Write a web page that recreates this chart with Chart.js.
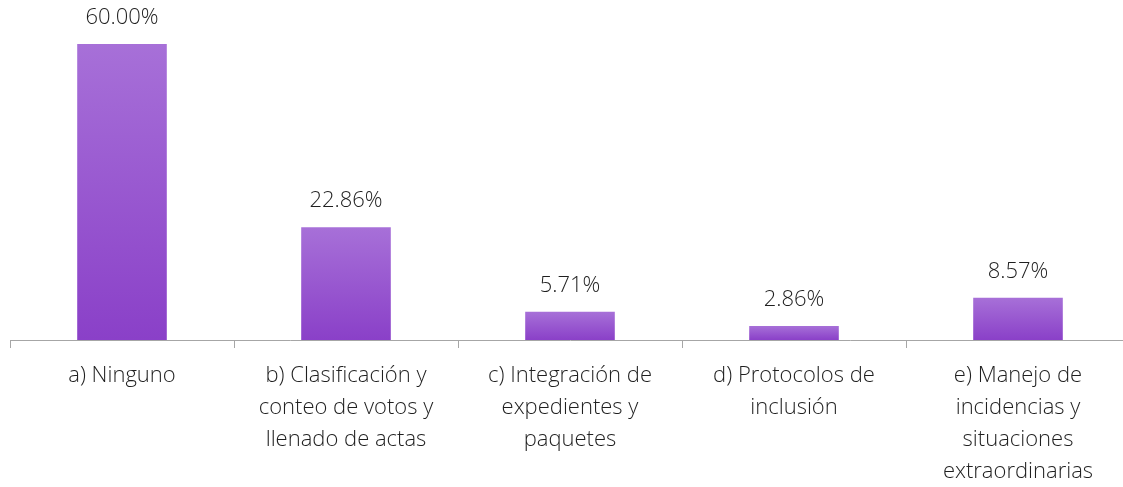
<!DOCTYPE html>
<html lang="es">
<head>
<meta charset="UTF-8" />
<title>Capacitación</title>
<script src="https://cdn.jsdelivr.net/npm/chart.js@4.4.1/dist/chart.umd.min.js"></script>
<style>
	html, body { margin: 0; padding: 0; background: #fff; overflow: hidden; }
	#wrap { position: relative; width: 1140px; height: 487px; }
</style>
</head>
<body>
<div id="wrap">
	<canvas id="myChart"></canvas>
</div>
<script>
	// categorias y porcentajes
	const categorias = [
		["a) Ninguno"],
		["b) Clasificación y", "conteo de votos y", "llenado de actas"],
		["c) Integración de", "expedientes y", "paquetes"],
		["d) Protocolos de", "inclusión"],
		["e) Manejo de", "incidencias y", "situaciones", "extraordinarias"]
	];
	const porcentajes = [60.00, 22.86, 5.71, 2.86, 8.57];

	const fuente = "'Open Sans', 'Noto Sans', sans-serif";

	// degradado vertical por barra, del tono claro arriba al oscuro abajo
	// (cada barra recibe su propio objeto de opciones, las compartidas no sirven)
	const degradado = {
		id: 'degradado',
		beforeDatasetsDraw(chart) {
			const ctx = chart.ctx;
			chart.getDatasetMeta(0).data.forEach(bar => {
				const g = ctx.createLinearGradient(0, bar.y, 0, bar.base);
				g.addColorStop(0, '#a770d8');
				g.addColorStop(1, '#8a40c8');
				bar.options = Object.assign({}, bar.options, { backgroundColor: g });
			});
		}
	};

	// etiquetas de valor encima de cada barra
	const etiquetas = {
		id: 'etiquetas',
		afterDatasetsDraw(chart) {
			const ctx = chart.ctx;
			ctx.save();
			ctx.font = "300 22px " + fuente;
			ctx.fillStyle = '#1f1f1f';
			ctx.textAlign = 'center';
			ctx.textBaseline = 'middle';
			chart.getDatasetMeta(0).data.forEach((bar, i) => {
				ctx.fillText(porcentajes[i].toFixed(2) + '%', bar.x, bar.y - 26);
			});
			ctx.restore();
		}
	};

	const ctx = document.getElementById('myChart').getContext('2d');
	const chart = new Chart(ctx, {
		type: 'bar',
		data: {
			labels: categorias,
			datasets: [{
				data: porcentajes,
				backgroundColor: '#9a58d0',
				categoryPercentage: 0.4,
				barPercentage: 1
			}]
		},
		options: {
			responsive: true,
			maintainAspectRatio: false,
			animation: false,
			layout: { padding: { top: 44, left: 10, right: 10, bottom: 0 } },
			plugins: { legend: { display: false }, tooltip: { enabled: false } },
			scales: {
				y: { display: false, min: 0, max: 60 },
				x: {
					afterFit(scale) { scale.height = 147; },
					border: { color: '#a6a6a6', width: 1 },
					grid: { offset: true, drawOnChartArea: false, color: '#a6a6a6', tickLength: 8 },
					ticks: {
						color: '#1f1f1f',
						padding: 12,
						maxRotation: 0,
						autoSkip: false,
						font: { family: fuente, size: 22, weight: 300, lineHeight: 32 / 22 }
					}
				}
			}
		},
		plugins: [degradado, etiquetas]
	});
</script>
</body>
</html>
